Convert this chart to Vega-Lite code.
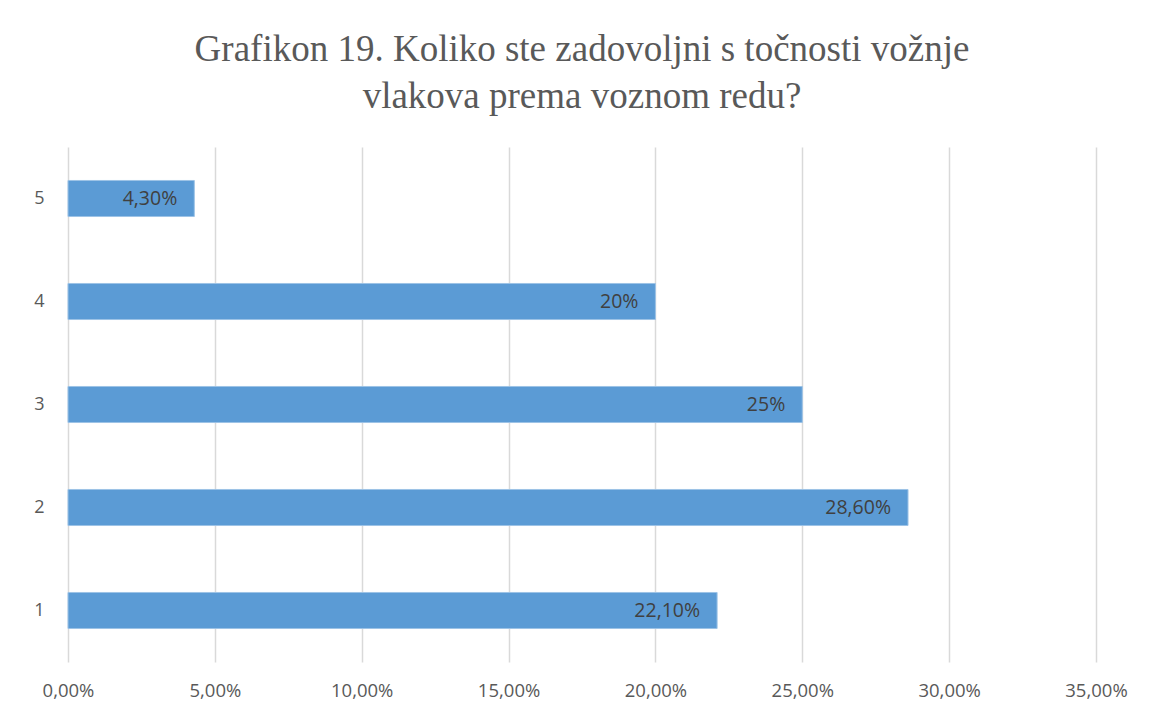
{
  "$schema": "https://vega.github.io/schema/vega-lite/v6.json",
  "width": 1028,
  "height": 515,
  "autosize": {"type": "none"},
  "padding": {"left": 68, "top": 147, "right": 56, "bottom": 55},
  "background": "white",
  "config": {
    "locale": {"number": {"decimal": ",", "thousands": ".", "grouping": [3], "currency": ["", " kn"]}},
    "view": {"stroke": null}
  },
  "title": {
    "text": ["Grafikon 19. Koliko ste zadovoljni s točnosti vožnje", "vlakova prema voznom redu?"],
    "font": "Liberation Serif",
    "fontSize": 37,
    "fontWeight": "normal",
    "color": "#595959",
    "lineHeight": 47,
    "offset": 31,
    "anchor": "middle"
  },
  "data": {
    "values": [
      {"cat": "5", "value": 0.043, "label": "4,30%"},
      {"cat": "4", "value": 0.20, "label": "20%"},
      {"cat": "3", "value": 0.25, "label": "25%"},
      {"cat": "2", "value": 0.286, "label": "28,60%"},
      {"cat": "1", "value": 0.221, "label": "22,10%"}
    ]
  },
  "encoding": {
    "y": {
      "field": "cat",
      "type": "nominal",
      "sort": ["5", "4", "3", "2", "1"],
      "scale": {"paddingInner": 0.65, "paddingOuter": 0.325},
      "axis": {
        "title": null,
        "ticks": false,
        "domain": false,
        "labelFont": "Open Sans",
        "labelFontSize": 18,
        "labelColor": "#595959",
        "labelPadding": 24
      }
    },
    "x": {
      "field": "value",
      "type": "quantitative",
      "scale": {"domain": [0, 0.35], "nice": false},
      "axis": {
        "title": null,
        "format": ".2%",
        "values": [0, 0.05, 0.1, 0.15, 0.2, 0.25, 0.3, 0.35],
        "ticks": false,
        "domain": false,
        "grid": true,
        "gridColor": "#D9D9D9",
        "gridWidth": 1.5,
        "labelFont": "Open Sans",
        "labelFontSize": 18.5,
        "labelColor": "#595959",
        "labelPadding": 19,
        "labelFlush": false
      }
    }
  },
  "layer": [
    {"mark": {"type": "bar", "color": "#5B9BD5", "stroke": "#9DC3E6", "strokeWidth": 1}},
    {
      "mark": {"type": "text", "align": "right", "baseline": "middle", "dx": -17, "font": "Open Sans", "fontSize": 19.5, "color": "#404040"},
      "encoding": {"text": {"field": "label"}}
    }
  ]
}
